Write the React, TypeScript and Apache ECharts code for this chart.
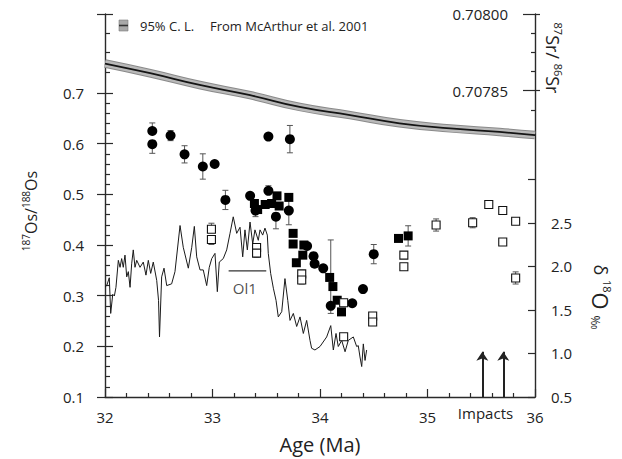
import React, { useEffect, useRef } from "react";
import * as echarts from "echarts";

const FONT = "'Open Sans', 'DejaVu Sans', sans-serif";
const INK = "#222";

// ---- axis ticks / labels ----
const ageRange = [32, 36];
const osLabels = [0.1, 0.2, 0.3, 0.4, 0.5, 0.6, 0.7];
const osMajorTicks = [0.1, 0.2, 0.3, 0.4, 0.5, 0.6, 0.7, 0.856];
const osMinorTicks = [
  0.12, 0.14, 0.16, 0.18, 0.22, 0.24, 0.26, 0.28, 0.32, 0.34, 0.36, 0.38,
  0.42, 0.44, 0.46, 0.48, 0.52, 0.54, 0.56, 0.58, 0.62, 0.64, 0.66, 0.68,
  0.742, 0.781, 0.818,
];
const srLabels = [0.70785, 0.708];
const srMinorTicks = [0.7078125, 0.7078875, 0.707925, 0.7079625];
const d18OLabels = [0.5, 1.0, 1.5, 2.0, 2.5];
const d18OTicks = [0.5, 1.0, 1.5, 2.0, 2.5, 3.0];

// ---- Sr curve (McArthur et al. 2001) ----
const srAge = [32.0, 32.42, 32.88, 33.35, 33.81, 34.28, 34.74, 35.21, 35.67, 36.0];
const srValue = [0.707903, 0.707884, 0.707861, 0.707841, 0.707818, 0.707802, 0.707786, 0.707776, 0.707769, 0.707763];

// ---- d18O record [age, permil] ----
const d18ORecord: [number, number][] = [
  [32.0, 1.77], [32.016, 1.78], [32.04, 1.87], [32.053, 1.46], [32.072, 1.68], [32.087, 1.66],
  [32.102, 1.76], [32.124, 2.07], [32.14, 1.99], [32.155, 2.09], [32.17, 1.99], [32.186, 2.13],
  [32.202, 1.88], [32.217, 1.94], [32.233, 1.76], [32.248, 2.03], [32.263, 2.19], [32.279, 1.99],
  [32.295, 2.07], [32.326, 1.99], [32.356, 2.05], [32.381, 1.9], [32.403, 2.07], [32.425, 1.92],
  [32.449, 2.05], [32.481, 1.84], [32.498, 1.61], [32.507, 1.19], [32.527, 1.88], [32.549, 1.98],
  [32.574, 1.78], [32.62, 1.8], [32.651, 1.94], [32.698, 2.47], [32.728, 2.22], [32.775, 1.98],
  [32.807, 2.22], [32.831, 2.46], [32.853, 2.11], [32.884, 1.96], [32.914, 1.96], [32.946, 1.78],
  [32.97, 1.99], [32.993, 2.09], [33.023, 2.15], [33.045, 1.71], [33.063, 2.05], [33.1, 2.09],
  [33.132, 2.19], [33.163, 2.38], [33.193, 2.57], [33.225, 2.38], [33.256, 2.45], [33.281, 2.11],
  [33.302, 2.42], [33.324, 2.19], [33.349, 2.51], [33.374, 2.26], [33.395, 2.42], [33.426, 2.3],
  [33.442, 2.42], [33.467, 2.36], [33.488, 2.44], [33.51, 2.36], [33.519, 2.15], [33.541, 1.92],
  [33.566, 1.75], [33.591, 1.61], [33.612, 1.42], [33.644, 1.48], [33.674, 1.86], [33.7, 1.61],
  [33.721, 1.38], [33.752, 1.46], [33.783, 1.31], [33.814, 1.42], [33.845, 1.23], [33.876, 1.38],
  [33.907, 1.15], [33.922, 1.06], [33.953, 1.04], [34.0, 1.08], [34.062, 1.19], [34.1, 1.32],
  [34.124, 1.04], [34.149, 1.23], [34.17, 1.08], [34.202, 1.15], [34.233, 1.02], [34.263, 1.15],
  [34.31, 1.19], [34.341, 1.08], [34.356, 1.09], [34.372, 0.96], [34.388, 0.85], [34.403, 1.11],
  [34.419, 0.92], [34.434, 1.04],
];

// ---- Os data: filled circles ----
const circleAge = [32.44, 32.44, 32.61, 32.74, 32.91, 33.02, 33.12, 33.52, 33.72, 33.35, 33.52, 33.59, 33.40, 33.71, 33.88, 33.94, 33.95, 34.03, 34.10, 34.30, 34.40, 34.50];
const circleOs = [0.625, 0.599, 0.616, 0.579, 0.555, 0.560, 0.489, 0.614, 0.609, 0.497, 0.507, 0.456, 0.468, 0.468, 0.398, 0.378, 0.363, 0.354, 0.280, 0.285, 0.313, 0.382];
const circleErrUp = [0.016, 0, 0.010, 0.017, 0.025, 0, 0.019, 0, 0.027, 0, 0.010, 0, 0.012, 0.028, 0, 0, 0, 0, 0.13, 0, 0, 0.019];
const circleErrDown = [0, 0.018, 0.010, 0.017, 0.025, 0, 0.019, 0, 0.027, 0, 0, 0.024, 0.012, 0.028, 0, 0, 0, 0, 0.015, 0, 0, 0.019];

// ---- Os data: filled squares ----
const squareAge = [33.39, 33.42, 33.49, 33.55, 33.60, 33.62, 33.71, 33.75, 33.75, 33.85, 33.84, 33.78, 34.09, 34.12, 34.16, 34.20, 34.73, 34.82];
const squareOs = [0.482, 0.470, 0.480, 0.482, 0.497, 0.477, 0.494, 0.423, 0.402, 0.400, 0.380, 0.365, 0.336, 0.318, 0.291, 0.268, 0.413, 0.418];
const squareErr = [0, 0, 0, 0, 0, 0, 0, 0, 0, 0, 0, 0, 0, 0, 0, 0, 0, 0.02];

// ---- Os data: open squares ----
const openAge = [32.99, 32.99, 33.41, 33.41, 33.83, 33.83, 34.22, 34.22, 34.49, 34.49, 34.78, 34.78, 35.08, 35.42, 35.57, 35.70, 35.82, 35.70, 35.82];
const openOs = [0.431, 0.411, 0.395, 0.384, 0.343, 0.331, 0.286, 0.219, 0.260, 0.248, 0.380, 0.357, 0.4395, 0.444, 0.480, 0.468, 0.447, 0.406, 0.335];
const openErrUp = [0.012, 0, 0, 0, 0, 0, 0, 0, 0.005, 0, 0, 0, 0.012, 0.010, 0, 0, 0, 0, 0.012];
const openErrDown = [0, 0.010, 0, 0.008, 0, 0.008, 0, 0, 0, 0.006, 0, 0, 0.012, 0.010, 0, 0, 0, 0, 0.012];

// ---- annotations ----
const ol1Span = [33.15, 33.50];
const ol1Os = 0.349;
const ol1LabelPos = [33.30, 0.3145];
const impactAge = [35.51, 35.705];
const impactFrom = 0.5;
const impactTo = 1.02;

function errorData(ages: number[], vals: number[], up: number[], down: number[]) {
  const out: number[][] = [];
  ages.forEach((a, i) => {
    if (up[i] > 0 || down[i] > 0) out.push([a, vals[i] - down[i], vals[i] + up[i]]);
  });
  return out;
}

const errStyle = { stroke: "#555", lineWidth: 1, fill: "none" };
function renderErr(params: any, api: any) {
  const x = api.value(0);
  const lo = api.coord([x, api.value(1)]);
  const hi = api.coord([x, api.value(2)]);
  const c = 3;
  return {
    type: "group",
    children: [
      { type: "line", shape: { x1: lo[0], y1: lo[1], x2: hi[0], y2: hi[1] }, style: errStyle },
      { type: "line", shape: { x1: lo[0] - c, y1: lo[1], x2: lo[0] + c, y2: lo[1] }, style: errStyle },
      { type: "line", shape: { x1: hi[0] - c, y1: hi[1], x2: hi[0] + c, y2: hi[1] }, style: errStyle },
    ],
  };
}

const lineSt = { color: "#2a2a2a", width: 1.4 };
const tickSt = { color: "#2a2a2a", width: 1.2 };

function tickAxis(position: string, min: number, max: number, values: number[], inside: boolean, length: number) {
  return {
    type: "value", position, min, max,
    axisLine: { show: false, onZero: false },
    axisTick: { show: true, inside, length, customValues: values, lineStyle: tickSt },
    axisLabel: { show: false },
    splitLine: { show: false },
  };
}

const option: any = {
  animation: false,
  textStyle: { fontFamily: FONT },
  grid: { left: 105, right: 87, top: 14, bottom: 62, containLabel: false, outerBoundsMode: "none" },
  xAxis: {
    type: "value", min: ageRange[0], max: ageRange[1], interval: 1,
    axisLine: { show: true, onZero: false, lineStyle: lineSt },
    axisTick: { show: true, inside: true, length: 8, lineStyle: tickSt },
    minorTick: { show: true, splitNumber: 5, length: 4, lineStyle: tickSt },
    axisLabel: { fontSize: 15, color: INK, margin: 12, fontFamily: FONT },
    splitLine: { show: false },
    name: "Age (Ma)", nameLocation: "middle", nameGap: 37,
    nameTextStyle: { fontSize: 20, color: INK, fontFamily: FONT },
  },
  yAxis: [
    {
      type: "value", position: "left", min: 0.1, max: 0.856,
      axisLine: { show: true, onZero: false, lineStyle: lineSt },
      axisTick: { show: true, inside: true, length: 8, customValues: osMajorTicks, lineStyle: tickSt },
      axisLabel: { customValues: osLabels, formatter: (v: number) => v.toFixed(1), fontSize: 15, color: INK, margin: 21, fontFamily: FONT },
      splitLine: { show: false },
    },
    tickAxis("left", 0.1, 0.856, osMajorTicks, false, 8),
    tickAxis("left", 0.1, 0.856, osMinorTicks, true, 5),
    {
      type: "value", position: "right", min: 0.70725, max: 0.708,
      axisLine: { show: false, onZero: false },
      axisTick: { show: true, inside: true, length: 12, customValues: srLabels, lineStyle: tickSt },
      axisLabel: { inside: true, customValues: srLabels, formatter: (v: number) => v.toFixed(5), fontSize: 15, color: INK, margin: 27, fontFamily: FONT },
      splitLine: { show: false },
    },
    tickAxis("right", 0.70725, 0.708, srLabels, false, 5),
    tickAxis("right", 0.70725, 0.708, srMinorTicks, true, 4),
    {
      type: "value", position: "right", min: 0.5, max: 4.9,
      axisLine: { show: true, onZero: false, lineStyle: lineSt },
      axisTick: { show: true, inside: true, length: 7, customValues: d18OTicks, lineStyle: tickSt },
      axisLabel: { customValues: d18OLabels, formatter: (v: number) => v.toFixed(1), fontSize: 15, color: INK, margin: 16, fontFamily: FONT },
      splitLine: { show: false },
    },
  ],
  series: [
    {
      type: "line", name: "Sr band edge", yAxisIndex: 3, smooth: true, symbol: "none",
      data: srAge.map((a, i) => [a, srValue[i]]),
      lineStyle: { color: "#8a8a8a", width: 8.5 }, z: 1,
    },
    {
      type: "line", name: "Sr band", yAxisIndex: 3, smooth: true, symbol: "none",
      data: srAge.map((a, i) => [a, srValue[i]]),
      lineStyle: { color: "#b9b9b9", width: 6.5 }, z: 1,
    },
    {
      type: "line", name: "Sr", yAxisIndex: 3, smooth: true, symbol: "none",
      data: srAge.map((a, i) => [a, srValue[i]]),
      lineStyle: { color: "#151515", width: 1.8 }, z: 2,
    },
    {
      type: "line", name: "d18O", yAxisIndex: 6, symbol: "none",
      data: d18ORecord,
      lineStyle: { color: "#1a1a1a", width: 1 }, z: 2,
    },
    {
      type: "line", name: "impacts", yAxisIndex: 6, symbol: "none", data: [],
      markLine: {
        silent: true, symbol: ["none", "arrow"], symbolSize: 9,
        lineStyle: { color: "#222", width: 2, type: "solid" },
        label: { show: false },
        data: impactAge.map((a) => [{ coord: [a, impactFrom] }, { coord: [a, impactTo] }]),
      },
    },
    {
      type: "line", name: "Ol1", yAxisIndex: 0, symbol: "none",
      data: ol1Span.map((a) => [a, ol1Os]),
      lineStyle: { color: "#333", width: 1.2 }, z: 2,
    },
    {
      type: "scatter", name: "Ol1 label", yAxisIndex: 0, symbolSize: 0,
      data: [ol1LabelPos],
      label: { show: true, formatter: "Ol1", position: "inside", fontSize: 15, color: INK, fontFamily: FONT },
    },
    {
      type: "custom", name: "err circles", yAxisIndex: 0, renderItem: renderErr,
      data: errorData(circleAge, circleOs, circleErrUp, circleErrDown), encode: { x: 0, y: [1, 2] }, z: 3,
    },
    {
      type: "custom", name: "err squares", yAxisIndex: 0, renderItem: renderErr,
      data: errorData(squareAge, squareOs, squareErr, squareErr), encode: { x: 0, y: [1, 2] }, z: 3,
    },
    {
      type: "custom", name: "err open", yAxisIndex: 0, renderItem: renderErr,
      data: errorData(openAge, openOs, openErrUp, openErrDown), encode: { x: 0, y: [1, 2] }, z: 3,
    },
    {
      type: "scatter", name: "circles", yAxisIndex: 0, symbol: "circle", symbolSize: 10,
      data: circleAge.map((a, i) => [a, circleOs[i]]),
      itemStyle: { color: "#000", opacity: 1 }, z: 4,
    },
    {
      type: "scatter", name: "squares", yAxisIndex: 0, symbol: "rect", symbolSize: 9,
      data: squareAge.map((a, i) => [a, squareOs[i]]),
      itemStyle: { color: "#000", opacity: 1 }, z: 4,
    },
    {
      type: "scatter", name: "open squares", yAxisIndex: 0, symbol: "rect", symbolSize: 8,
      data: openAge.map((a, i) => [a, openOs[i]]),
      itemStyle: { color: "#fff", borderColor: "#111", borderWidth: 1.1, opacity: 1 }, z: 5,
    },
  ],
  graphic: [
    { type: "rect", shape: { x: 119, y: 20, width: 9, height: 11 }, style: { fill: "#a8a8a8", stroke: "#7a7a7a", lineWidth: 0.6 } },
    { type: "line", shape: { x1: 119, y1: 25.5, x2: 128, y2: 25.5 }, style: { stroke: "#333", lineWidth: 1.6 } },
    { type: "text", x: 140, y: 26, style: { text: "95% C. L.", fontSize: 13, fontFamily: FONT, fill: INK, verticalAlign: "middle" } },
    { type: "text", x: 210, y: 26, style: { text: "From McArthur et al. 2001", fontSize: 13, fontFamily: FONT, fill: INK, verticalAlign: "middle" } },
    { type: "text", x: 485.5, y: 413, style: { text: "Impacts", fontSize: 15, fontFamily: FONT, fill: INK, align: "center", verticalAlign: "middle" } },
    {
      type: "text", x: 31, y: 211, rotation: Math.PI / 2,
      style: {
        text: "{s|187}{m|Os/}{s|188}{m|Os}", align: "center", verticalAlign: "middle", fill: INK,
        rich: {
          s: { fontSize: 10, fontFamily: FONT, fill: INK, verticalAlign: "top", lineHeight: 11 },
          m: { fontSize: 16, fontFamily: FONT, fill: INK, lineHeight: 20 },
        },
      },
    },
    {
      type: "text", x: 553, y: 58, rotation: -Math.PI / 2,
      style: {
        text: "{s|87}{m|Sr/ }{s|86}{m|Sr}", align: "center", verticalAlign: "middle", fill: INK,
        rich: {
          s: { fontSize: 11, fontFamily: FONT, fill: INK, verticalAlign: "top", lineHeight: 11 },
          m: { fontSize: 18, fontFamily: FONT, fill: INK, lineHeight: 22 },
        },
      },
    },
    {
      type: "text", x: 601, y: 297, rotation: -Math.PI / 2,
      style: {
        text: "{d|δ }{s|18}{o|O }{u|‰}", align: "center", verticalAlign: "middle", fill: INK,
        rich: {
          d: { fontSize: 18, fontFamily: FONT, fill: INK, lineHeight: 24 },
          s: { fontSize: 11, fontFamily: FONT, fill: INK, verticalAlign: "top", lineHeight: 11 },
          o: { fontSize: 22, fontFamily: FONT, fill: INK, lineHeight: 24 },
          u: { fontSize: 12, fontFamily: FONT, fill: INK, verticalAlign: "bottom", lineHeight: 12 },
        },
      },
    },
  ],
};

export default function App() {
  const ref = useRef<HTMLDivElement>(null);
  useEffect(() => {
    const chart = echarts.init(ref.current!, null, { renderer: "svg" });
    chart.setOption(option);
    return () => chart.dispose();
  }, []);
  return (
    <div
      ref={ref}
      style={{ position: "fixed", left: 0, top: 0, width: 622, height: 459, background: "#fff" }}
    />
  );
}
